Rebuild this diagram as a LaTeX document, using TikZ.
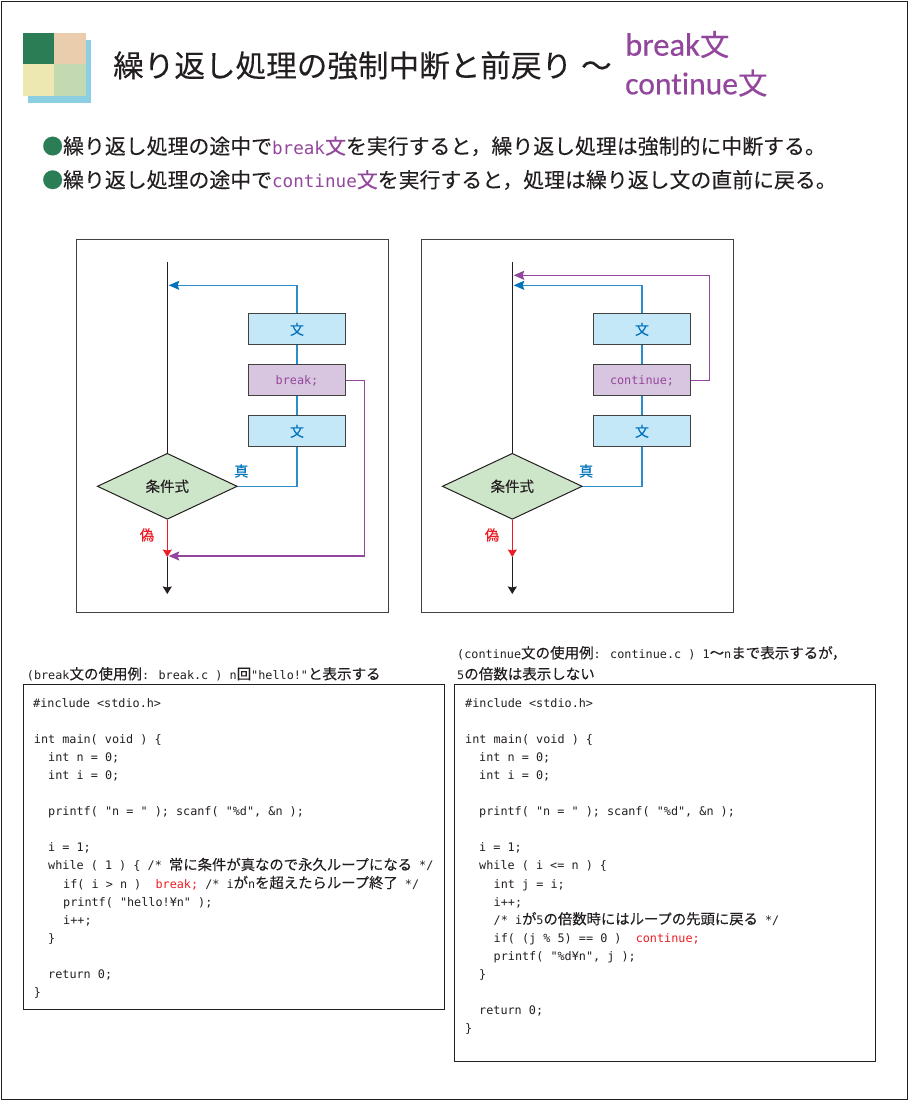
\documentclass[tikz,border=0pt]{standalone}
\usepackage{fontspec}
\setmainfont[FakeBold=0.15]{Noto Sans CJK JP}
\newfontfamily\monof{DejaVu Sans Mono}
\newfontfamily\latinf[FakeBold=0.4,Ligatures=NoCommon]{Carlito}
\usetikzlibrary{arrows.meta,shapes.geometric}
\definecolor{ink}{HTML}{231F20}
\definecolor{grn}{HTML}{2A7D55}
\definecolor{pur}{HTML}{93479C}
\definecolor{blu}{HTML}{0072BC}
\definecolor{bluln}{HTML}{2A8CCB}
\definecolor{rd}{HTML}{ED1C24}
\newcommand\fs[1]{\fontsize{#1}{#1}\selectfont}
\newcommand\cd[1]{{\monof\fs{11.8}#1}}
\newcommand\clr[1]{{\color{rd}#1}}
\newcommand\codeln[4]{\node[codeline] (#1) at (#2,{707+18.1*#3}) {\monof\fs{11.8}#4};}
\tikzset{
 x=1pt,y=-1pt,
 codeline/.style={anchor=base west,inner sep=0pt,text=ink},
 jp/.style={anchor=base west,inner sep=0pt,text=ink},
 frame/.style={draw=ink!85,line width=1pt},
 codebox/.style={draw=ink,line width=1pt,anchor=north west,inner sep=0pt},
 stmt/.style={draw=ink!85,line width=1.1pt,fill=#1,minimum width=96.5pt,minimum height=31pt,inner sep=0pt,font=\fs{14},text=blu},
 cond/.style={diamond,aspect=2.12,draw=ink,line width=1pt,fill=cond,inner sep=0pt,minimum width=140pt,minimum height=66pt,font=\fs{14.5},text=ink},
 blueline/.style={draw=bluln,line width=1.1pt},
 purpline/.style={draw=pur,line width=1.1pt},
 redline/.style={draw=rd,line width=1.1pt},
 blackline/.style={draw=ink,line width=1.1pt},
 btip/.style={-{Stealth[length=10.5pt,width=9pt,inset=1.5pt,fill=blu,color=blu]}},
 ptip/.style={-{Stealth[length=10.5pt,width=9pt,inset=1.5pt,fill=pur,color=pur]}},
 rtip/.style={-{Stealth[length=7.5pt,width=9pt,inset=1pt,fill=rd,color=rd]}},
 ktip/.style={-{Stealth[length=7.5pt,width=9pt,inset=1pt]}},
}
\definecolor{cond}{HTML}{CDE5C9}
\definecolor{stmtc}{HTML}{C5E8F9}
\definecolor{brkc}{HTML}{D8C5DF}
\begin{document}
\begin{tikzpicture}
\useasboundingbox (0,0) rectangle (908,1100);
\draw[frame,draw=ink] (1,1) rectangle (907.5,1099.5);
% logo
\fill[fill={rgb,255:red,140;green,207;blue,227}] (28,39.7) rectangle (91,102.7);
\fill[grn] (22.7,33) rectangle (54,64.3);
\fill[fill={rgb,255:red,234;green,205;blue,173}] (54,33) rectangle (85.7,64.3);
\fill[fill={rgb,255:red,237;green,231;blue,177}] (22.7,64.3) rectangle (54,96);
\fill[fill={rgb,255:red,194;green,217;blue,177}] (54,64.3) rectangle (85.7,96);
% title
\node[jp,font=\fs{30.6}] (title) at (113,77) {繰り返し処理の強制中断と前戻り\hspace{2pt} ～};
\node[jp,text=pur] (t1) at (625,55.7) {{\latinf\fs{32.6}break}\fs{29.5}文};
\node[jp,text=pur] (t2) at (625,94.3) {{\latinf\fs{31.6}continue}\fs{29.5}文};
% bullets
\node[jp,font=\fs{20.9}] (b1) at (42,154) {{\color{grn}●}繰り返し処理の途中で{\color{pur}{\monof\fs{17.6}break}文}を実行すると，繰り返し処理は強制的に中断する。};
\node[jp,font=\fs{20.9}] (b2) at (42,187.7) {{\color{grn}●}繰り返し処理の途中で{\color{pur}{\monof\fs{17.6}continue}文}を実行すると，処理は繰り返し文の直前に戻る。};
% left flow
\node[frame,draw,minimum width=311.5pt,minimum height=373.5pt,inner sep=0pt] (lf) at (232.5,426) {};
\node[cond] (ld) at (167.3,486.3) {条件式};
\node[stmt=stmtc] (ls1) at (297,329.4) {文};
\node[stmt=brkc,text=pur] (ls2) at (297,380.4) {\cd{break;}};
\node[stmt=stmtc] (ls3) at (297,431.4) {文};
\coordinate (ltop) at (167.3,262.3);
\coordinate (lblue) at (168.7,285.3);
\coordinate (lmerge) at (167.3,557);
\coordinate (lpurp) at (168.7,556);
\coordinate (lend) at (167.3,594);
\draw[blackline] (ltop) -- (ld.north);
\draw[blueline] (ls3.south) |- (ld.east);
\draw[blueline] (ls3.north) -- (ls2.south);
\draw[blueline] (ls2.north) -- (ls1.south);
\draw[blueline,btip] (ls1.north) |- (lblue);
\draw[blackline,ktip] (lmerge) -- (lend);
\draw[redline,rtip] (ld.south) -- (lmerge);
\draw[purpline,ptip] (ls2.east) -- (364.7,380.4) |- (lpurp);
\node[font=\fs{14.4},text=blu,inner sep=0pt] (ltrue) at (241.3,471) {真};
\node[font=\fs{14.4},text=rd,inner sep=0pt] (lfalse) at (147,535) {偽};
% right flow
\node[frame,draw,minimum width=311.5pt,minimum height=373.5pt,inner sep=0pt] (rf) at (577.5,426) {};
\node[cond] (rd) at (512.3,486.3) {条件式};
\node[stmt=stmtc] (rs1) at (642,329.4) {文};
\node[stmt=brkc,text=pur] (rs2) at (642,380.4) {\cd{continue;}};
\node[stmt=stmtc] (rs3) at (642,431.4) {文};
\coordinate (rtop) at (512.3,262.3);
\coordinate (rblue) at (513.7,285.3);
\coordinate (rpurp) at (513.7,275.3);
\coordinate (rmerge) at (512.3,557);
\coordinate (rend) at (512.3,594);
\draw[blackline] (rtop) -- (rd.north);
\draw[blueline] (rs3.south) |- (rd.east);
\draw[blueline] (rs3.north) -- (rs2.south);
\draw[blueline] (rs2.north) -- (rs1.south);
\draw[blueline,btip] (rs1.north) |- (rblue);
\draw[blackline,ktip] (rmerge) -- (rend);
\draw[redline,rtip] (rd.south) -- (rmerge);
\draw[purpline,ptip] (rs2.east) -- (709.7,380.4) |- (rpurp);
\node[font=\fs{14.4},text=blu,inner sep=0pt] (rtrue) at (586,471) {真};
\node[font=\fs{14.4},text=rd,inner sep=0pt] (rfalse) at (492,535) {偽};
% code headings
\node[jp,font=\fs{14.5}] (hl) at (26.7,679.3) {\cd{(break}文の使用例\cd{: break.c ) n}回\cd{"hello!"}と表示する};
\node[jp,font=\fs{14.5}] (hr1) at (457,658.3) {\cd{(continue}文の使用例\cd{: continue.c ) 1}〜\cd{n}まで表示するが，};
\node[jp,font=\fs{14.5}] (hr2) at (457,679.3) {\cd{5}の倍数は表示しない};
% code boxes
\node[codebox,minimum width=420.5pt,minimum height=325.5pt] (cl) at (23,683.5) {};
\node[codebox,minimum width=420.5pt,minimum height=377.5pt] (cr) at (454,683.5) {};
% left code
\codeln{a0}{33}{0}{\#include <stdio.h>}
\codeln{a2}{33.7}{2}{int main( void ) \{}
\codeln{a3}{48}{3}{int n = 0;}
\codeln{a4}{48}{4}{int i = 0;}
\codeln{a6}{48}{6}{printf( "n = " ); scanf( "\%d", \&n );}
\codeln{a8}{48}{8}{i = 1;}
\codeln{a9}{48}{9}{while ( 1 ) \{ /* {\rmfamily\fs{14.35}常に条件が真なので永久ループになる} */}
\codeln{a10}{63}{10}{if( i > n )~ \clr{break;} /* i{\rmfamily\fs{14.35}が}n{\rmfamily\fs{14.35}を超えたらループ終了} */}
\codeln{a11}{63}{11}{printf( "hello!¥n" );}
\codeln{a12}{63}{12}{i++;}
\codeln{a13}{48}{13}{\}}
\codeln{a15}{48}{15}{return 0;}
\codeln{a16}{33.7}{16}{\}}
% right code
\codeln{c0}{465}{0}{\#include <stdio.h>}
\codeln{c2}{465}{2}{int main( void ) \{}
\codeln{c3}{479}{3}{int n = 0;}
\codeln{c4}{479}{4}{int i = 0;}
\codeln{c6}{479}{6}{printf( "n = " ); scanf( "\%d", \&n );}
\codeln{c8}{479}{8}{i = 1;}
\codeln{c9}{479}{9}{while ( i <= n ) \{}
\codeln{c10}{493.5}{10}{int j = i;}
\codeln{c11}{493.5}{11}{i++;}
\codeln{c12}{493.5}{12}{/* i{\rmfamily\fs{14.35}が}5{\rmfamily\fs{14.35}の倍数時にはループの先頭に戻る} */}
\codeln{c13}{493.5}{13}{if( (j \% 5) == 0 )~ \clr{continue;}}
\codeln{c14}{493.5}{14}{printf( "\%d¥n", j );}
\codeln{c15}{479}{15}{\}}
\codeln{c17}{479}{17}{return 0;}
\codeln{c18}{465}{18}{\}}
\end{tikzpicture}
\end{document}
